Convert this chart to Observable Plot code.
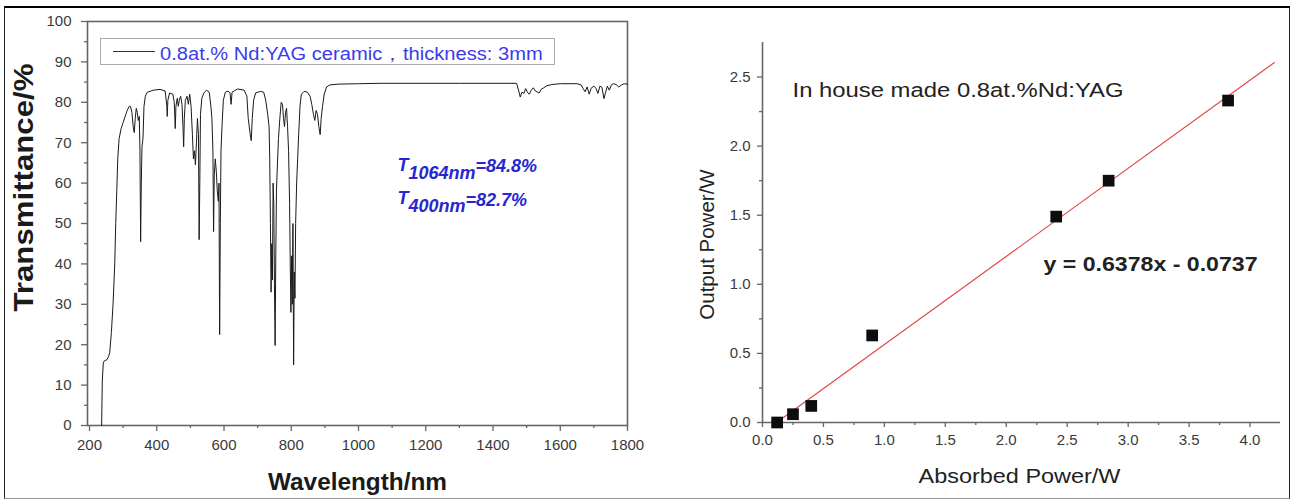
<!DOCTYPE html>
<html><head><meta charset="utf-8">
<script src="https://cdn.jsdelivr.net/npm/d3@7"></script>
<script src="https://cdn.jsdelivr.net/npm/@observablehq/plot@0.6"></script>
<style>
html,body{margin:0;padding:0;background:#fff;}
#wrap{position:relative;width:1293px;height:501px;overflow:hidden;font-family:"Liberation Sans",Arial,sans-serif;background:#fff;}
#border{position:absolute;left:4px;top:6px;width:1286px;height:493px;box-sizing:border-box;border-top:2px solid #000;border-left:1px solid #222;border-right:1px solid #222;border-bottom:1px solid #999;}
#left{position:absolute;left:0;top:0;}
#right{position:absolute;left:650px;top:0;}
#legend{position:absolute;left:100px;top:38px;width:455px;height:27px;box-sizing:border-box;border:1px solid #aaa;background:#fff;}
#legend .ln{position:absolute;left:12px;top:12px;width:42px;border-top:1px solid #333;}
#legend .tx{position:absolute;left:59px;top:3px;font-size:17.5px;color:#3b3bea;white-space:nowrap;transform:scaleX(1.15);transform-origin:0 50%;}
</style></head>
<body>
<div id="wrap">
  <div id="border"></div>
  <div id="left"></div>
  <div id="right"></div>
  <div id="legend"><div class="ln"></div><div class="tx"></div></div>
</div>
<script>
// ---- Left panel: transmittance spectrum ----
const wavelength = [236,238,241,244,252,256,260,265,270,275,278,281,284,288,294,300,306,312,318,322,326,330,333,336,339,342,345,348,350,352,354,356,359,362,366,372,390,410,425,430,431,433,438,448,452,455,457,461,464,467,471,475,478,480,482,485,490,494,498,502,506,509,512,515,518,521,524,526,528,530,534,540,548,556,561,564,567,569,571,574,577,580,583,585,587,589,591,594,598,604,612,618,621,624,640,660,668,672,675,678,681,684,688,694,708,718,724,730,734,736,738,740,742,744,746,748,750,752,754,756,759,762,766,770,774,777,780,783,786,789,792,795,797,799,801,803,805,807,809,811,813,816,819,822,826,830,838,848,856,861,866,870,874,878,882,886,889,893,898,905,915,940,1000,1064,1200,1300,1400,1470,1476,1481,1486,1492,1497,1503,1508,1514,1520,1526,1532,1537,1543,1551,1560,1575,1600,1650,1662,1668,1674,1680,1686,1692,1700,1706,1712,1718,1724,1730,1735,1740,1746,1752,1758,1766,1774,1782,1790,1800];
const transmittance = [0,11,15.5,16,16.3,17,18,23,30,40,50,58,66,71,73.5,75,76.5,78,79,79,77.5,74,72.5,76,78.5,77.5,75.5,76.5,68,45.5,60,69,71,79,81.5,82.5,83,83.2,82.8,79,76.5,80.5,82.3,82,80,73.5,79,81,79,80.5,81.5,79.5,74,69,76,80.5,81.5,79.5,82,79,72,66,68,64.5,70,76,72,46,60,77,81,82.3,83,82.5,79,76,68,48,62,66,63,58,55.5,60,22.5,50,68,74,80.5,82.5,82.8,82.3,79.5,82.5,83.3,83,81.5,76,74,72,70.5,76,80.5,82.3,82.7,82.5,80.5,77,74,66,50,33,45,36,60,55,35,19.8,42,58,65,71,76,80,79.5,76,74,77.5,78.5,74,68,55,40,28,42,30,50,15,38,31.5,50,60,66,72,79,82,82.7,82.5,81.5,79.5,77,75.5,78,77,74,72,76,79,82,83.8,84.3,84.5,84.6,84.7,84.7,84.7,84.7,84.7,83,81.3,82.5,82.2,83.4,82.4,82,83,83.6,82.8,82.5,82.3,83.2,83.6,84.1,84.4,84.6,84.6,84.3,83.4,82.6,83.8,82,83.5,84,83.5,82.2,84,83.7,80.9,82.5,84,83,84.3,84.6,84.4,83.8,84.3,84.6,84.5];
const wlTicks = [200,400,600,800,1000,1200,1400,1600,1800];
const wlMinor = [300,500,700,900,1100,1300,1500,1700];
const tTicks = [0,10,20,30,40,50,60,70,80,90,100];
const tMinor = [5,15,25,35,45,55,65,75,85,95];
const legendText = "0.8at.% Nd:YAG ceramic，thickness: 3mm";
const annMain = ["T","T"];
const annSub = ["1064nm","400nm"];
const annVal = ["=84.8%","=82.7%"];

// ---- Right panel: laser output ----
const absorbed = [0.12,0.25,0.40,0.90,2.41,2.84,3.82];
const output = [0.00,0.06,0.12,0.63,1.49,1.75,2.33];
const fitSlope = 0.6378, fitIntercept = -0.0737;
const fitRange = [0.115, 4.2];
const pTicksX = [0,0.5,1,1.5,2,2.5,3,3.5,4];
const pMinorX = [0.25,0.75,1.25,1.75,2.25,2.75,3.25,3.75];
const pTicksY = [0,0.5,1,1.5,2,2.5];
const pMinorY = [0.25,0.75,1.25,1.75,2.25];

const FONT = '"Liberation Sans", Arial, sans-serif';
const spectrum = wavelength.map((w,i)=>({w, t: transmittance[i]}));
const pts = absorbed.map((a,i)=>({a, o: output[i]}));
const fit = fitRange.map(a=>({a, o: fitSlope*a + fitIntercept}));

function fitText(svg, str, len){
  svg.querySelectorAll("text").forEach(t=>{
    if (t.textContent === str){ t.setAttribute("textLength", len); t.setAttribute("lengthAdjust","spacingAndGlyphs"); }
  });
}

const left = Plot.plot({
  width: 650, height: 495,
  marginLeft: 87, marginRight: 23, marginTop: 21, marginBottom: 70,
  x: {domain: [194, 1800]},
  y: {domain: [0, 100]},
  style: {fontFamily: FONT, color: "#333", background: "transparent", overflow: "visible"},
  marks: [
    Plot.axisX({ticks: wlTicks, tickSize: 6, tickPadding: 8, fontSize: 15, tickFormat: d3.format("d"), label: null, stroke: "#666", strokeWidth: 1.3, fill: "#3a3a3a"}),
    Plot.axisX({ticks: wlMinor, tickSize: 3, tickFormat: () => "", label: null, stroke: "#666", strokeWidth: 1.3}),
    Plot.axisY({ticks: tTicks, tickSize: 6, tickPadding: 10, fontSize: 15, tickFormat: d3.format("d"), label: null, stroke: "#666", strokeWidth: 1.3, fill: "#3a3a3a"}),
    Plot.axisY({ticks: tMinor, tickSize: 3, tickFormat: () => "", label: null, stroke: "#666", strokeWidth: 1.3}),
    Plot.frame({stroke: "#666", strokeWidth: 1.6}),
    Plot.line(spectrum, {x: "w", y: "t", stroke: "#1a1a1a", strokeWidth: 1}),
    Plot.text(["Wavelength/nm"], {text: d => d, frameAnchor: "bottom", dy: 64, lineAnchor: "bottom", fontSize: 24, fontWeight: "bold", fill: "#1a1a1a"}),
    Plot.text(["Transmittance/%"], {text: d => d, frameAnchor: "left", dx: -55, dy: -36, rotate: -90, textAnchor: "middle", lineAnchor: "bottom", fontSize: 27, fontWeight: "bold", fill: "#1a1a1a"}),
    ...annMain.map((m,i) => Plot.text([m + annSub[i] + annVal[i]], {text: d => d, frameAnchor: "top-left", dx: 310, dy: 149 + i*33.5, textAnchor: "start", lineAnchor: "bottom", fontSize: 18, fontWeight: "bold", fontStyle: "italic", fill: "#2626d2"}))
  ]
});
fitText(left, "Wavelength/nm", 179);
fitText(left, "Transmittance/%", 248);
annMain.forEach((m,i)=>{
  const full = m + annSub[i] + annVal[i];
  left.querySelectorAll("text").forEach(t=>{
    if (t.textContent === full){
      while (t.firstChild) t.removeChild(t.firstChild);
      const ns = "http://www.w3.org/2000/svg";
      const a = document.createElementNS(ns,"tspan"); a.textContent = m;
      const b = document.createElementNS(ns,"tspan"); b.textContent = annSub[i]; b.setAttribute("dy","8");
      const c = document.createElementNS(ns,"tspan"); c.textContent = annVal[i]; c.setAttribute("dy","-6.5");
      t.append(a,b,c);
    }
  });
});
document.getElementById("left").appendChild(left);
document.querySelector("#legend .tx").textContent = legendText;

const right = Plot.plot({
  width: 643, height: 495,
  marginLeft: 112, marginRight: 13, marginTop: 42, marginBottom: 73,
  x: {domain: [0, 4.25]},
  y: {domain: [0, 2.75]},
  style: {fontFamily: FONT, color: "#333", background: "transparent", overflow: "visible"},
  marks: [
    Plot.axisX({ticks: pTicksX, tickSize: 5, tickPadding: 7, fontSize: 15, tickFormat: d3.format(".1f"), label: null, stroke: "#666", strokeWidth: 1.3, fill: "#3a3a3a"}),
    Plot.axisX({ticks: pMinorX, tickSize: 3, tickFormat: () => "", label: null, stroke: "#666", strokeWidth: 1.3}),
    Plot.axisY({ticks: pTicksY, tickSize: 5, tickPadding: 7, fontSize: 15, tickFormat: d3.format(".1f"), label: null, stroke: "#666", strokeWidth: 1.3, fill: "#3a3a3a"}),
    Plot.axisY({ticks: pMinorY, tickSize: 3, tickFormat: () => "", label: null, stroke: "#666", strokeWidth: 1.3}),
    Plot.ruleX([0], {stroke: "#666", strokeWidth: 1.6}),
    Plot.ruleY([0], {stroke: "#666", strokeWidth: 1.6}),
    Plot.line(fit, {x: "a", y: "o", stroke: "#e04848", strokeWidth: 1.2}),
    Plot.dot(pts, {x: "a", y: "o", symbol: "square", r: 6.6, fill: "#0d0d0d", stroke: "none"}),
    Plot.text(["In house made 0.8at.%Nd:YAG"], {text: d => d, frameAnchor: "top-left", dx: 30, dy: 54, textAnchor: "start", lineAnchor: "bottom", fontSize: 20, fill: "#222"}),
    Plot.text([`y = ${fitSlope}x - ${Math.abs(fitIntercept)}`], {text: d => d, frameAnchor: "top-left", dx: 281, dy: 228, textAnchor: "start", lineAnchor: "bottom", fontSize: 20, fontWeight: "bold", fill: "#222"}),
    Plot.text(["Absorbed Power/W"], {text: d => d, frameAnchor: "bottom", dx: -2, dy: 60, lineAnchor: "bottom", fontSize: 21, fill: "#222"}),
    Plot.text(["Output Power/W"], {text: d => d, frameAnchor: "left", dx: -49, dy: 12, rotate: -90, textAnchor: "middle", lineAnchor: "bottom", fontSize: 20.5, fill: "#222"})
  ]
});
fitText(right, "In house made 0.8at.%Nd:YAG", 331);
fitText(right, `y = ${fitSlope}x - ${Math.abs(fitIntercept)}`, 214);
fitText(right, "Absorbed Power/W", 202);
document.getElementById("right").appendChild(right);
</script>
</body></html>
